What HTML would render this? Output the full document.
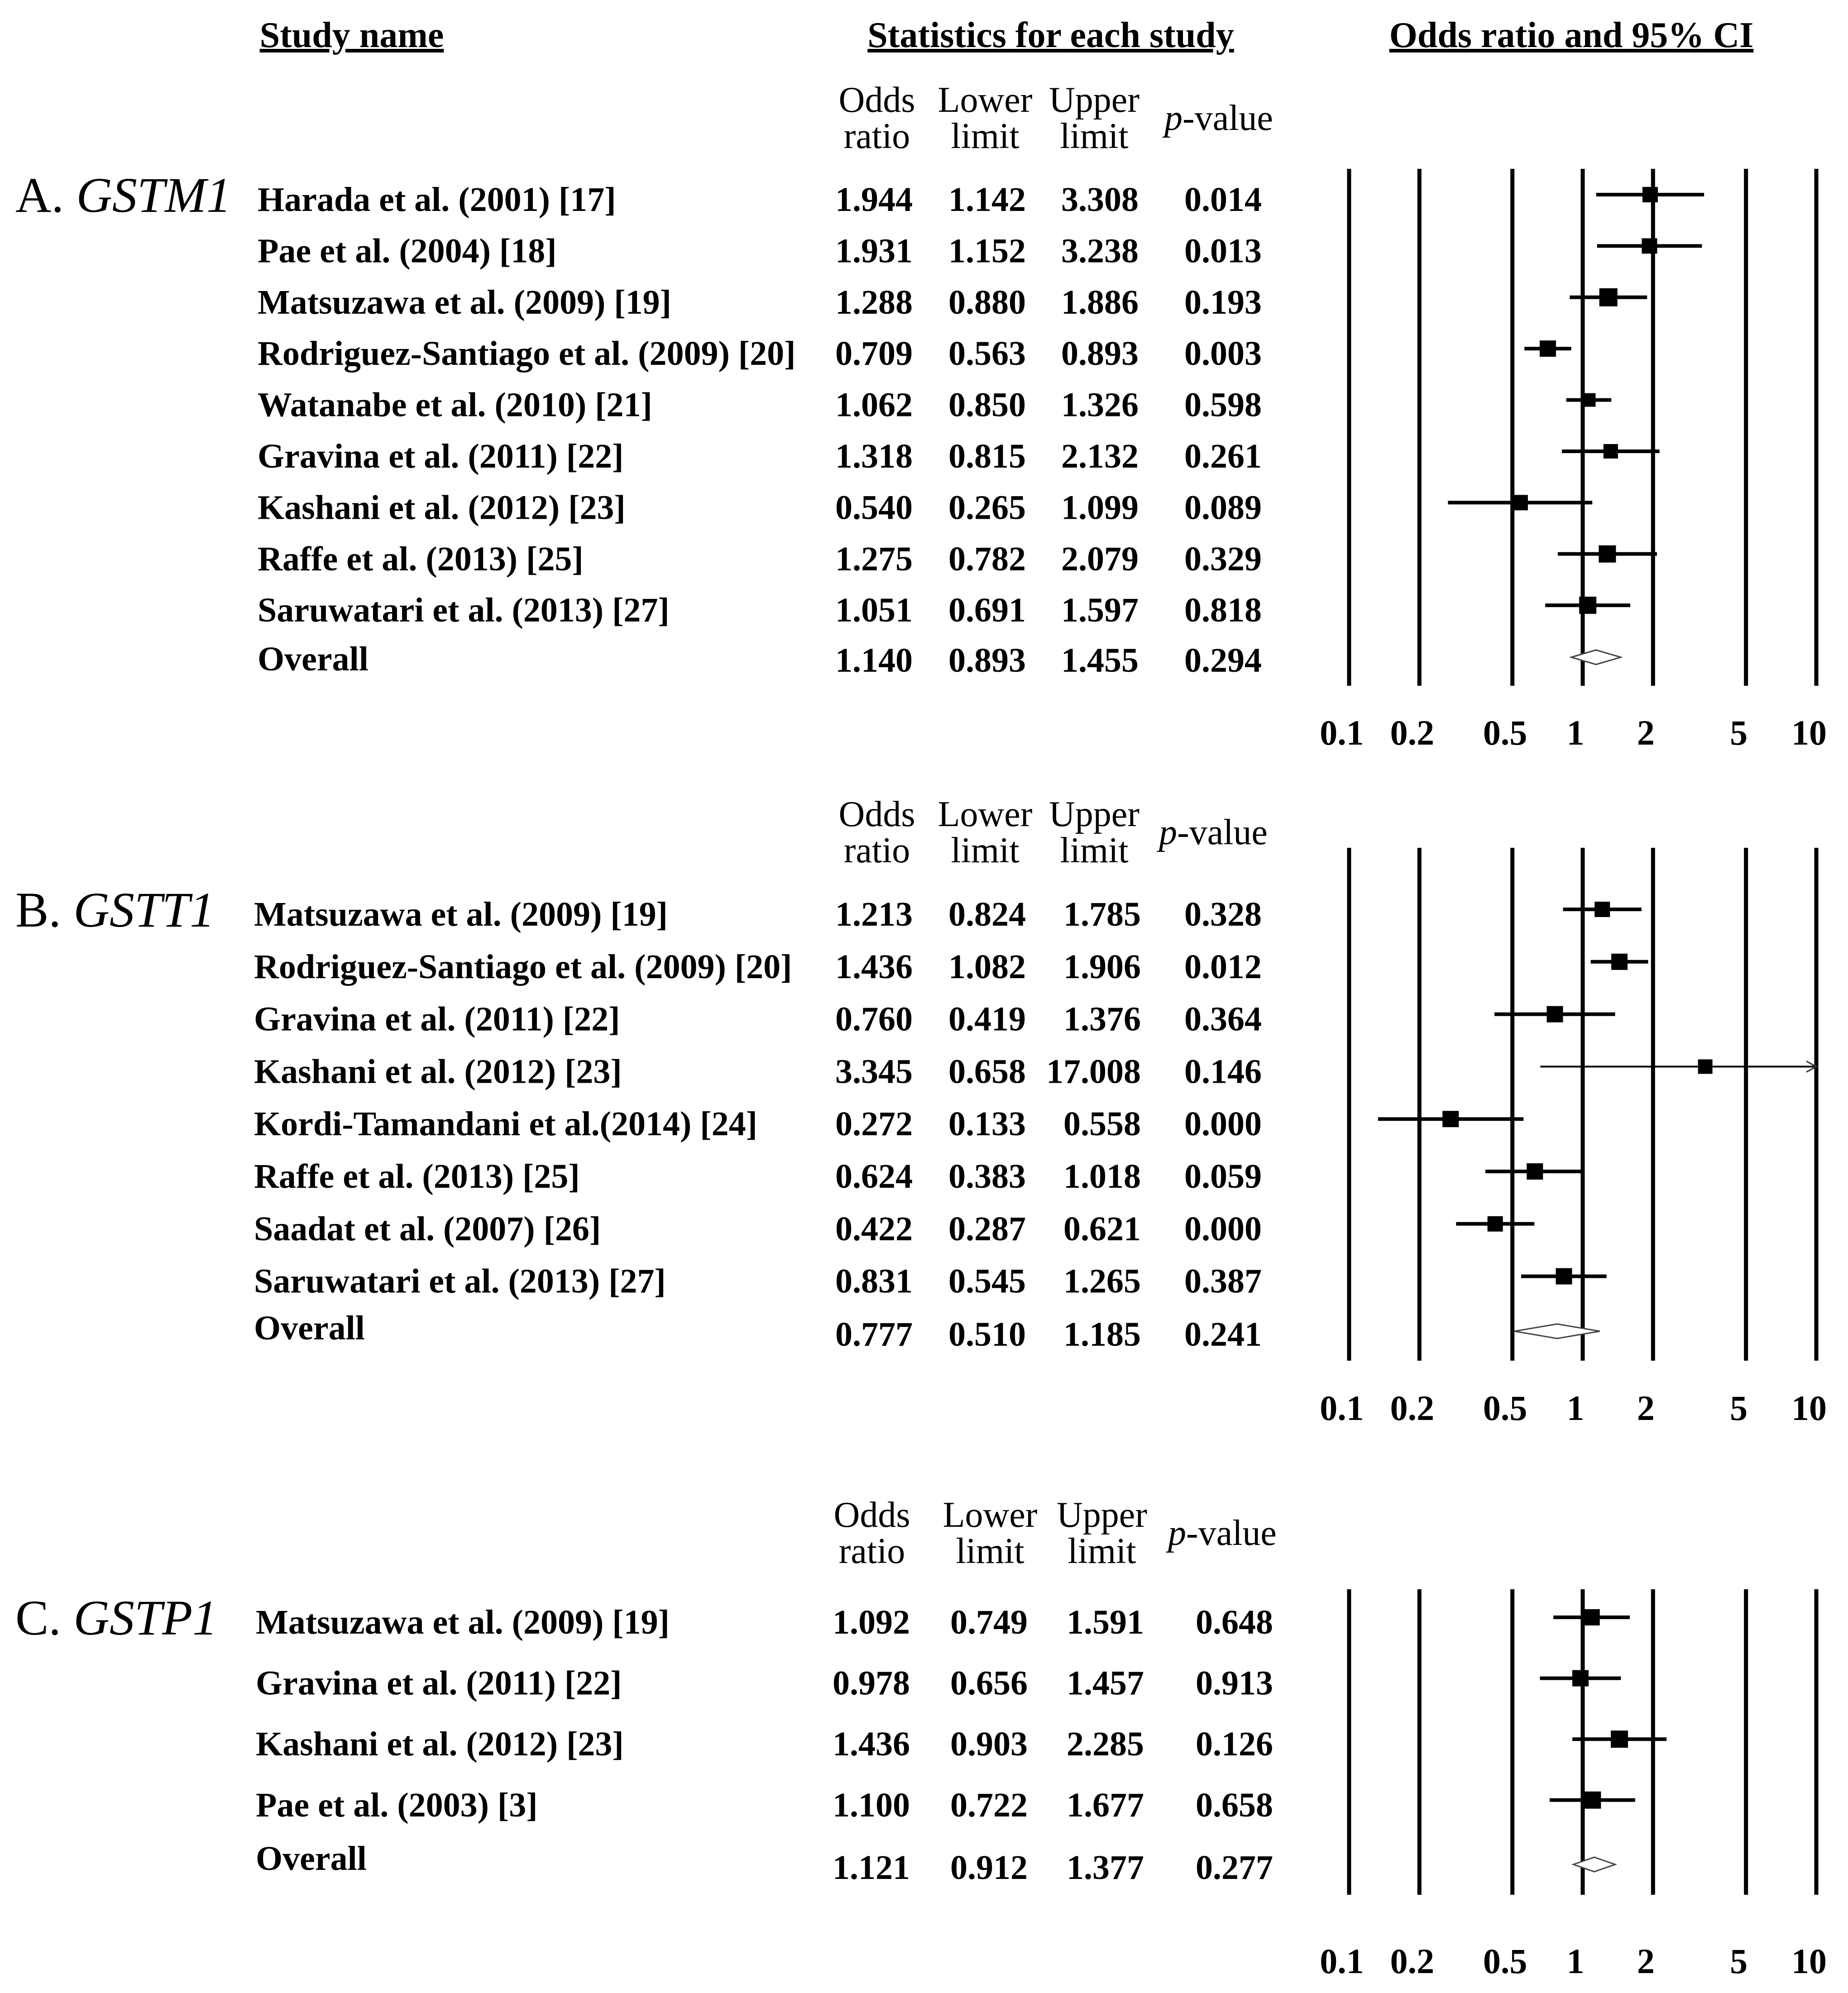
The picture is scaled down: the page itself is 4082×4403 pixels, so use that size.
<!DOCTYPE html>
<html><head><meta charset="utf-8"><style>
body{margin:0;background:#fff}
svg{display:block}
text{font-family:"Liberation Serif",serif;fill:#000}
</style></head><body>
<svg id="c" width="4082" height="4403" viewBox="0 0 4082 4403" xmlns="http://www.w3.org/2000/svg">
<g font-weight="bold" font-size="80" text-decoration="underline">
<text x="777" y="104" text-anchor="middle">Study name</text>
<text x="2321" y="104" text-anchor="middle">Statistics for each study</text>
<text x="3471" y="104" text-anchor="middle">Odds ratio and 95% CI</text>
</g>
<g id="plot"></g>
</svg>
<script>
const panelLabels = ["A. ", "B. ", "C. "];
const panelGenes = ["GSTM1", "GSTT1", "GSTP1"];
const studiesA = ["Harada et al. (2001) [17]","Pae et al. (2004) [18]","Matsuzawa et al. (2009) [19]","Rodriguez-Santiago et al. (2009) [20]","Watanabe et al. (2010) [21]","Gravina et al. (2011) [22]","Kashani et al. (2012) [23]","Raffe et al. (2013) [25]","Saruwatari et al. (2013) [27]"];
const orA = [1.944,1.931,1.288,0.709,1.062,1.318,0.540,1.275,1.051];
const loA = [1.142,1.152,0.880,0.563,0.850,0.815,0.265,0.782,0.691];
const upA = [3.308,3.238,1.886,0.893,1.326,2.132,1.099,2.079,1.597];
const pA = ["0.014","0.013","0.193","0.003","0.598","0.261","0.089","0.329","0.818"];
const wA = [34,34,40,36,30,32,34,38,38];
const overallA = [1.140,0.893,1.455,"0.294"];
const studiesB = ["Matsuzawa et al. (2009) [19]","Rodriguez-Santiago et al. (2009) [20]","Gravina et al. (2011) [22]","Kashani et al. (2012) [23]","Kordi-Tamandani et al.(2014) [24]","Raffe et al. (2013) [25]","Saadat et al. (2007) [26]","Saruwatari et al. (2013) [27]"];
const orB = [1.213,1.436,0.760,3.345,0.272,0.624,0.422,0.831];
const loB = [0.824,1.082,0.419,0.658,0.133,0.383,0.287,0.545];
const upB = [1.785,1.906,1.376,17.008,0.558,1.018,0.621,1.265];
const pB = ["0.328","0.012","0.364","0.146","0.000","0.059","0.000","0.387"];
const wB = [34,36,36,32,36,36,34,36];
const overallB = [0.777,0.510,1.185,"0.241"];
const studiesC = ["Matsuzawa et al. (2009) [19]","Gravina et al. (2011) [22]","Kashani et al. (2012) [23]","Pae et al. (2003) [3]"];
const orC = [1.092,0.978,1.436,1.100];
const loC = [0.749,0.656,0.903,0.722];
const upC = [1.591,1.457,2.285,1.677];
const pC = ["0.648","0.913","0.126","0.658"];
const wC = [36,36,38,38];
const overallC = [1.121,0.912,1.377,"0.277"];
const ticks = [0.1,0.2,0.5,1,2,5,10];
const tickLabels = ["0.1","0.2","0.5","1","2","5","10"];

const NS="http://www.w3.org/2000/svg";
const root=document.getElementById('plot');
function mk(tag,attrs,parent,txt){const e=document.createElementNS(NS,tag);for(const k in attrs)e.setAttribute(k,attrs[k]);if(txt!==undefined)e.textContent=txt;(parent||root).appendChild(e);return e;}
function xs(v){return 2980+516*Math.log10(Math.min(Math.max(v,0.1),10)/0.1);}
const fmt=v=>typeof v==="number"?v.toFixed(3):v;

const panels=[
 {st:studiesA,or:orA,lo:loA,up:upA,p:pA,w:wA,ov:overallA,y0:440,dy:113.4,ovY:1458,ovLab:1455,hY:219,gTop:373,gBot:1515,tY:1645,cols:[2016,2266,2515,2787],hc:[1937,2176,2417,2692],nameX:569},
 {st:studiesB,or:orB,lo:loB,up:upB,p:pB,w:wB,ov:overallB,y0:2019,dy:115.8,ovY:2947,ovLab:2933,hY:1797,gTop:1873,gBot:3006,tY:3137,cols:[2016,2266,2520,2787],hc:[1937,2176,2417,2680],nameX:561},
 {st:studiesC,or:orC,lo:loC,up:upC,p:pC,w:wC,ov:overallC,y0:3583,dy:134.6,ovY:4125,ovLab:4105,hY:3345,gTop:3511,gBot:4186,tY:4359,cols:[2010,2270,2527,2812],hc:[1926,2187,2434,2700],nameX:565}
];
panels.forEach((P,pi)=>{
  const g=mk('g',{});
  
  
  const lab=mk('text',{x:34,y:P.y0+28,'font-size':110},g);
  
  
  mk('tspan',{},lab,panelLabels[pi]);
  mk('tspan',{'font-style':'italic'},lab,panelGenes[pi]);
  const hd=[["Odds","ratio"],["Lower","limit"],["Upper","limit"]];
  hd.forEach((h,i)=>{
    const t1=mk('text',{x:P.hc[i],y:P.hY+28,'font-size':80,'text-anchor':'middle'},g,h[0]);
    
    
    mk('text',{x:P.hc[i],y:P.hY+108,'font-size':80,'text-anchor':'middle'},g,h[1]);
  });
  const pv=mk('text',{x:P.hc[3],y:P.hY+68,'font-size':80,'text-anchor':'middle'},g);
  
  
  mk('tspan',{'font-style':'italic'},pv,'p');
  mk('tspan',{},pv,'-value');
  ticks.forEach((t,i)=>{
    const l=mk('line',{x1:xs(t),x2:xs(t),y1:P.gTop,y2:P.gBot,stroke:'#000','stroke-width':9},g);
    
    
    const tl=mk('text',{x:xs(t)-16,y:P.tY,'font-size':78,'font-weight':'bold','text-anchor':'middle'},g,tickLabels[i]);
    
    
  });
  P.st.forEach((s,i)=>{
    const y=P.y0+i*P.dy;
    const nm=mk('text',{x:P.nameX,y:y+26,'font-size':76,'font-weight':'bold'},g,s);
    
    
    [P.or[i],P.lo[i],P.up[i],P.p[i]].forEach((v,j)=>{
      const t=mk('text',{x:P.cols[j],y:y+26,'font-size':76,'font-weight':'bold','text-anchor':'end'},g,fmt(v));
      
      
    });
    const my=y-10;
    const ci=mk('line',{x1:xs(P.lo[i]),x2:xs(P.up[i]),y1:my,y2:my,stroke:'#000','stroke-width':P.up[i]>10?4:8},g);
    
    
    if(P.up[i]>10){
      const ar=mk('path',{d:`M${xs(10)-22},${my-12} L${xs(10)},${my} L${xs(10)-22},${my+12}`,fill:'none',stroke:'#333','stroke-width':3},g);
      
      
    }
    const w=P.w[i];
    const sq=mk('rect',{x:xs(P.or[i])-w/2,y:my-w/2,width:w,height:w,fill:'#000'},g);
    
    
  });
  const ol=mk('text',{x:P.nameX,y:P.ovLab+26,'font-size':76,'font-weight':'bold'},g,'Overall');
  
  
  P.ov.forEach((v,j)=>{
    const t=mk('text',{x:P.cols[j],y:P.ovY+26,'font-size':76,'font-weight':'bold','text-anchor':'end'},g,fmt(v));
    
    
  });
  const dy=P.ovY-6;
  const dm=mk('path',{d:`M${xs(P.ov[1])},${dy} L${xs(P.ov[0])},${dy-16} L${xs(P.ov[2])},${dy} L${xs(P.ov[0])},${dy+16} Z`,fill:'#fff',stroke:'#444','stroke-width':3},g);
  
  
});
</script>
</body></html>
